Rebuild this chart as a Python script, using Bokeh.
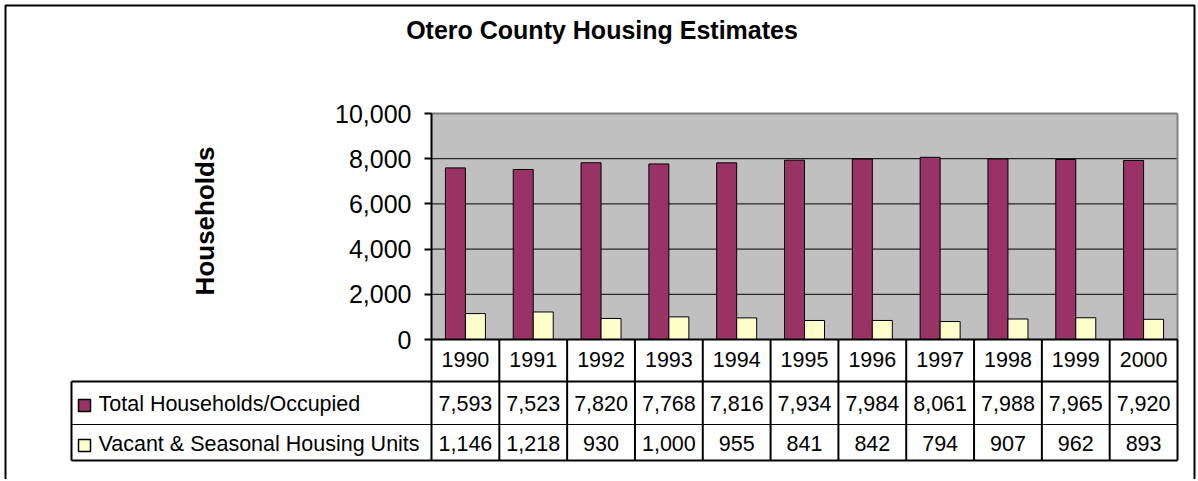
import math
from bokeh.plotting import figure
from bokeh.models import Range1d, FixedTicker, NumeralTickFormatter
from bokeh.core.properties import value
from bokeh.embed import file_html
from bokeh.resources import INLINE

# ---------------- data ----------------
years = ["1990", "1991", "1992", "1993", "1994", "1995",
         "1996", "1997", "1998", "1999", "2000"]
occupied = [7593, 7523, 7820, 7768, 7816, 7934, 7984, 8061, 7988, 7965, 7920]
vacant = [1146, 1218, 930, 1000, 955, 841, 842, 794, 907, 962, 893]
series_names = ["Total Households/Occupied", "Vacant & Seasonal Housing Units"]
y_ticks = [0, 2000, 4000, 6000, 8000, 10000]
chart_title = "Otero County Housing Estimates"
y_label = "Households"

# ---------------- layout (page pixels) ----------------
W, H = 1196, 479
OX, OY = 0, 0
PL, PR, PT, PB = 431, 1177, 113, 339      # plot area
YMAX = 10000
n = len(years)
ux = (PR - PL) / n
uy = YMAX / (PB - PT)
x_start = -0.5 - (PL - OX) / ux
x_end = n - 0.5 + (OX + W - PR) / ux
y_start = -(OY + H - PB) * uy
y_end = YMAX + (PT - OY) * uy

PURPLE = "#993366"
YELLOW = "#FFFFCC"
FONT = value("Liberation Sans")

p = figure(width=W, height=H, x_range=Range1d(x_start, x_end),
           y_range=Range1d(y_start, y_end), output_backend="svg",
           toolbar_location=None, tools="", min_border=0)
p.extra_x_ranges = {"px": Range1d(OX, OX + W)}
p.extra_y_ranges = {"px": Range1d(OY + H, OY)}
p.background_fill_color = "white"
p.border_fill_color = "white"
p.outline_line_color = None
p.grid.visible = False
p.xaxis.visible = False

idx = list(range(n))
x_lo = -0.5
x_hi = n - 0.5

# plot area background
p.quad(left=[x_lo], right=[x_hi], bottom=[0], top=[YMAX],
       fill_color="#C0C0C0", line_color=None)
# grid lines
grid_vals = [t for t in y_ticks if 0 < t < YMAX]
p.segment(x0=[x_lo] * len(grid_vals), x1=[x_hi] * len(grid_vals),
          y0=grid_vals, y1=grid_vals, line_color="black", line_width=1)
# bars
bw = 20 / ux
p.vbar(x=[i - bw / 2 for i in idx], width=bw, top=occupied, bottom=0,
       fill_color=PURPLE, line_color="black", line_width=1)
p.vbar(x=[i + bw / 2 for i in idx], width=bw, top=vacant, bottom=0,
       fill_color=YELLOW, line_color="black", line_width=1)
# plot area top/right border
p.segment(x0=[x_lo, x_hi], x1=[x_hi, x_hi], y0=[YMAX, 0], y1=[YMAX, YMAX],
          line_color="#808080", line_width=2)

# y axis
ax = p.yaxis[0]
ax.fixed_location = x_lo
ax.bounds = (0, YMAX)
ax.ticker = FixedTicker(ticks=y_ticks)
ax.formatter = NumeralTickFormatter(format="0,0")
ax.major_label_text_font = "Liberation Sans"
ax.major_label_text_font_size = "25px"
ax.major_label_text_color = "black"
ax.major_tick_out = 7
ax.major_tick_in = 0
ax.minor_tick_out = 0
ax.minor_tick_in = 0
ax.axis_line_width = 2
ax.axis_line_color = "black"
ax.major_tick_line_width = 2
ax.major_tick_line_color = "black"
ax.major_label_standoff = 13

# ---------------- table ----------------
R0, R1, R2, R3 = PB, 381, 424, 460
TL = 71
# vertical column lines
cols = [x_lo + i for i in range(n + 1)]
p.segment(x0=cols, x1=cols, y0=[R0] * len(cols), y1=[R3] * len(cols),
          y_range_name="px", line_color="black", line_width=2)
# bottom axis line
p.segment(x0=[x_lo], x1=[x_hi], y0=[R0], y1=[R0], y_range_name="px",
          line_color="black", line_width=2)
# horizontal table lines
p.segment(x0=[TL, TL], x1=[PR, PR], y0=[R1, R3], y1=[R1, R3],
          x_range_name="px", y_range_name="px", line_color="black", line_width=2)
p.segment(x0=[TL], x1=[PR], y0=[R2], y1=[R2],
          x_range_name="px", y_range_name="px", line_color="black", line_width=1)
p.segment(x0=[TL], x1=[TL], y0=[R1], y1=[R3],
          x_range_name="px", y_range_name="px", line_color="black", line_width=2)

# table texts
TFS = "21.5px"
p.text(x=idx, y=[359] * n, text=years, y_range_name="px",
       text_align="center", text_baseline="alphabetic", text_font=FONT,
       text_font_size=TFS, text_color="black")
p.text(x=idx, y=[403] * n, text=[f"{v:,}" for v in occupied], y_range_name="px",
       text_align="center", text_baseline="alphabetic", text_font=FONT,
       text_font_size=TFS, text_color="black")
p.text(x=idx, y=[443] * n, text=[f"{v:,}" for v in vacant], y_range_name="px",
       text_align="center", text_baseline="alphabetic", text_font=FONT,
       text_font_size=TFS, text_color="black")
# legend keys and names
p.rect(x=[84, 84], y=[405, 445], width=12, height=12,
       x_range_name="px", y_range_name="px",
       fill_color=[PURPLE, YELLOW], line_color="black", line_width=1.5)
p.text(x=[98, 98], y=[403, 443], text=series_names,
       x_range_name="px", y_range_name="px",
       text_align="left", text_baseline="alphabetic", text_font=FONT,
       text_font_size=TFS, text_color="black")

# title and y label
p.text(x=[601.5], y=[29.5], text=[chart_title], x_range_name="px", y_range_name="px",
       text_align="center", text_baseline="alphabetic", text_font=FONT,
       text_font_size="25px", text_font_style="bold", text_color="black")
p.text(x=[204], y=[220.5], text=[y_label], x_range_name="px", y_range_name="px",
       angle=math.pi / 2, text_align="center", text_baseline="middle",
       text_font=FONT, text_font_size="26px", text_font_style="bold",
       text_color="black")

# outer frame
p.multi_line(xs=[[5, 5, 1194, 1194]], ys=[[OY + H + 5, 5, 5, OY + H + 5]],
             x_range_name="px", y_range_name="px", line_color="black", line_width=2)

open("out.html", "w").write(file_html(p, INLINE))
